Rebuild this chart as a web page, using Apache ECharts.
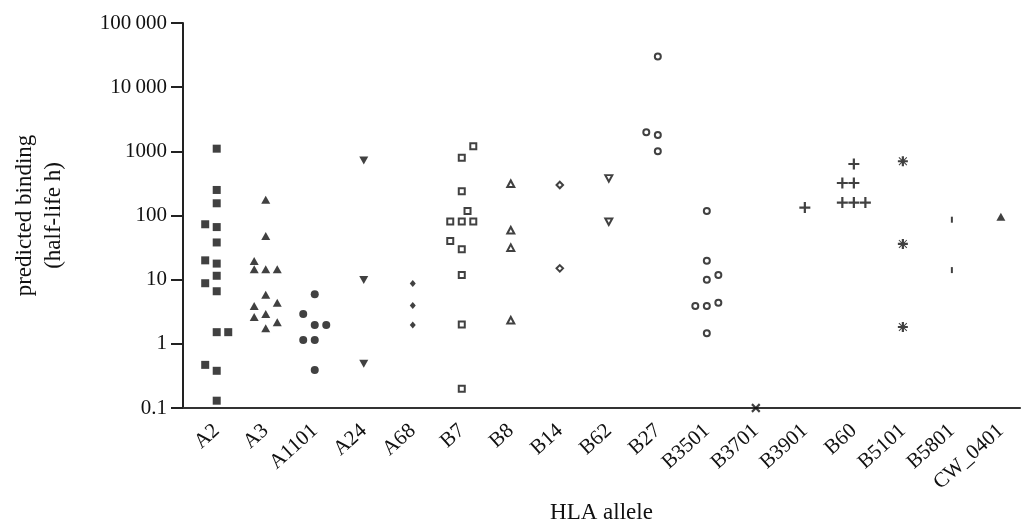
<!DOCTYPE html>
<html>
<head>
<meta charset="utf-8">
<script src="https://cdn.jsdelivr.net/npm/echarts@6/dist/echarts.min.js"></script>
<style>
html,body{margin:0;padding:0;background:#fff;}
#chart{width:1023px;height:524px;}
</style>
</head>
<body>
<div id="chart"></div>
<script>
// Categories (HLA alleles)
const categories = ['A2','A3','A1101','A24','A68','B7','B8','B14','B62','B27','B3501','B3701','B3901','B60','B5101','B5801','CW_0401'];
// Y tick labels
const yTickLabels = {0.1:'0.1',1:'1',10:'10',100:'100',1000:'1000',10000:'10\u2009000',100000:'100\u2009000'};
// Each point: [predicted half-life (h), jitter slot within its column]
const A2 = [[1100,0],[250,0],[155,0],[73,-1],[66,0],[38,0],[20,-1],[17.8,0],[11.5,0],[8.8,-1],[6.6,0],[1.52,0],[1.52,1],[0.47,-1],[0.38,0],[0.13,0]];
const A3 = [[176,0],[48,0],[19.6,-1],[14.5,-1],[14.5,0],[14.5,1],[5.8,0],[4.35,1],[3.9,-1],[2.93,0],[2.63,-1],[2.17,1],[1.75,0]];
const A1101 = [[5.9,0],[2.93,-1],[1.97,0],[1.97,1],[1.15,-1],[1.15,0],[0.39,0]];
const A24 = [[718,0],[9.9,0],[0.49,0]];
const A68 = [[8.75,0],[3.96,0],[1.97,0]];
const B7 = [[1200,1],[791,0],[238,0],[118,0.5],[80.5,-1],[80.5,0],[80.5,1],[40,-1],[29.8,0],[11.8,0],[2.0,0],[0.2,0]];
const B8 = [[313,0],[59,0],[31.5,0],[2.33,0]];
const B14 = [[299,0],[15,0]];
const B62 = [[379,0],[80,0]];
const B27 = [[30000,0],[1990,-1],[1790,0],[1000,0]];
const B3501 = [[117,0],[19.8,0],[11.8,1],[10,0],[4.35,1],[3.9,-1],[3.9,0],[1.46,0]];
const B3701 = [[0.1,0]];
const B3901 = [[133,0]];
const B60 = [[635,0],[321,-1],[321,0],[159,-1],[159,0],[159,1]];
const B5101 = [[700,0],[36,0],[1.83,0]];
const B5801 = [[86,0],[14.1,0]];
const CW_0401 = [[96,0]];

const groups = [A2,A3,A1101,A24,A68,B7,B8,B14,B62,B27,B3501,B3701,B3901,B60,B5101,B5801,CW_0401];

const INK = '#111';
const PLUS = 'path://M4,0h2v4h4v2h-4v4h-2v-4h-4v-2h4z';
const STAR = 'path://M3.9,0h2.2v3.2L8.6,0.7L9.3,1.4L6.8,3.9H10v2.2H6.8l2.5,2.5L8.6,9.3L6.1,6.8V10H3.9V6.8L1.4,9.3L0.7,8.6l2.5,-2.5H0V3.9h3.2L0.7,1.4L1.4,0.7l2.5,2.5z';
const filled = {color: INK};
const open = {color: '#fff', borderColor: INK, borderWidth: 2};
const markerStyles = [
  {symbol:'rect', symbolSize:8, itemStyle:filled},
  {symbol:'triangle', symbolSize:[9,8], itemStyle:filled},
  {symbol:'circle', symbolSize:8, itemStyle:filled},
  {symbol:'triangle', symbolSize:[9,8], symbolRotate:180, itemStyle:filled},
  {symbol:'diamond', symbolSize:[6,7], itemStyle:filled},
  {symbol:'rect', symbolSize:6, itemStyle:open},
  {symbol:'triangle', symbolSize:[7,6.5], itemStyle:open},
  {symbol:'diamond', symbolSize:[6.5,6.5], itemStyle:open},
  {symbol:'triangle', symbolSize:[7,6.5], symbolRotate:180, itemStyle:open},
  {symbol:'circle', symbolSize:6, itemStyle:open},
  {symbol:'circle', symbolSize:6, itemStyle:open},
  {symbol:PLUS, symbolSize:11, symbolRotate:45, itemStyle:filled},
  {symbol:PLUS, symbolSize:11, itemStyle:filled},
  {symbol:PLUS, symbolSize:11, itemStyle:filled},
  {symbol:STAR, symbolSize:10, itemStyle:filled},
  {symbol:'rect', symbolSize:[2,6], itemStyle:filled},
  {symbol:'triangle', symbolSize:[9,8], itemStyle:filled}
];
const JITTER = 0.235;

const series = groups.map((pts, i) => Object.assign({
  type: 'scatter',
  name: categories[i],
  data: pts.map(p => [i + p[1] * JITTER, p[0]]),
  clip: false,
  z: 5
}, markerStyles[i]));

const FONT = 'Liberation Serif';
const chart = echarts.init(document.getElementById('chart'));
chart.setOption({
  animation: false,
  backgroundColor: '#fff',
  grid: {left: 183, right: 3, top: 23, bottom: 116, containLabel: false, outerBoundsMode: 'none'},
  xAxis: {
    type: 'value',
    min: -0.688,
    max: 16.39,
    name: 'HLA allele',
    nameLocation: 'middle',
    nameGap: 93,
    nameTextStyle: {fontFamily: FONT, fontSize: 23, color: INK},
    axisLine: {show: true, onZero: false, lineStyle: {color: '#333', width: 2.2}},
    axisTick: {show: false},
    splitLine: {show: false},
    axisLabel: {
      customValues: categories.map((c, i) => i),
      formatter: v => categories[Math.round(v)],
      rotate: 42,
      margin: 20,
      fontFamily: FONT, fontSize: 21, color: INK
    }
  },
  yAxis: {
    type: 'log',
    logBase: 10,
    min: 0.1,
    max: 100000,
    name: 'predicted binding\n(half-life h)',
    nameLocation: 'middle',
    nameGap: 115,
    nameRotate: 90,
    nameTextStyle: {fontFamily: FONT, fontSize: 23, color: INK, lineHeight: 29},
    axisLine: {show: true, onZero: false, lineStyle: {color: '#222', width: 2}},
    axisTick: {show: true, length: 12, lineStyle: {color: '#222', width: 2}},
    splitLine: {show: false},
    axisLabel: {
      margin: 16,
      formatter: v => yTickLabels[v] !== undefined ? yTickLabels[v] : String(v),
      fontFamily: FONT, fontSize: 21, color: INK
    }
  },
  series: series
});
</script>
</body>
</html>
